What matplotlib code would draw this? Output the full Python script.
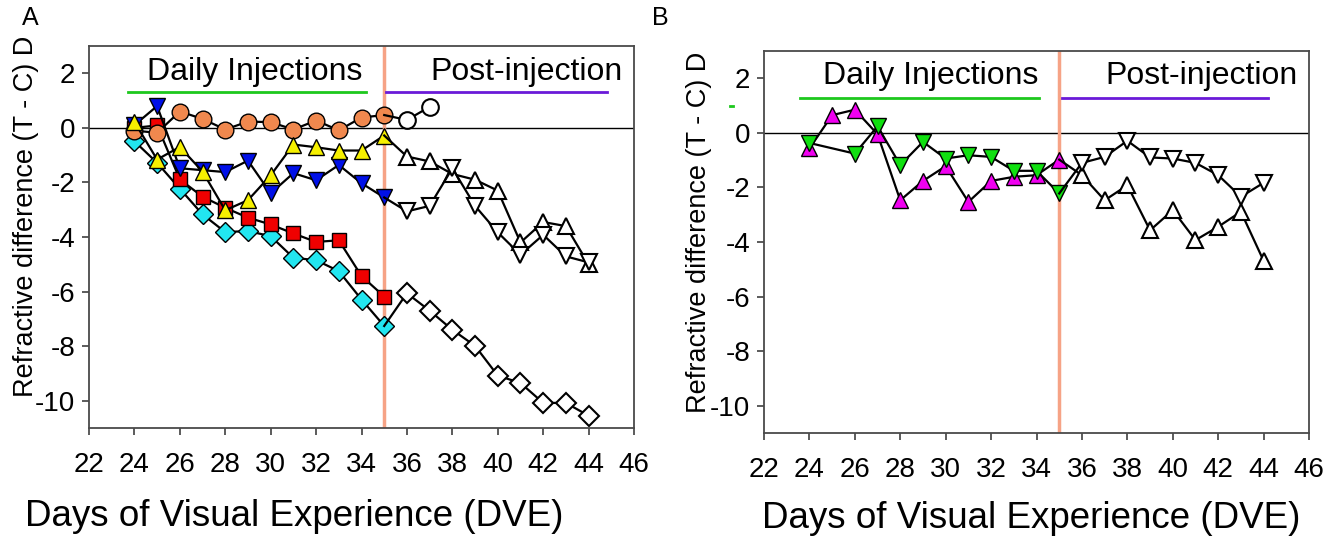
import matplotlib
matplotlib.use("Agg")
import matplotlib.pyplot as plt
import numpy as np

plt.rcParams['font.family'] = ['Liberation Sans', 'DejaVu Sans']
plt.rcParams['axes.unicode_minus'] = False

##### Data #####
inj_days = [24, 25, 26, 27, 28, 29, 30, 31, 32, 33, 34, 35]
post_days = [36, 37, 38, 39, 40, 41, 42, 43, 44]

# Panel A, injection period
a_orange = [-0.1, -0.18, 0.6, 0.33, -0.06, 0.23, 0.21, -0.06, 0.27, -0.09, 0.38, 0.47]
a_yellow = [0.22, -1.16, -0.7, -1.6, -3.02, -2.65, -1.74, -0.61, -0.71, -0.83, -0.83, -0.28]
a_blue = [0.1, 0.8, -1.48, -1.55, -1.62, -1.2, -2.4, -1.66, -1.92, -1.36, -2.03, -2.55]
a_red = [0.0, 0.09, -1.89, -2.52, -2.93, -3.29, -3.54, -3.87, -4.18, -4.12, -5.43, -6.18]
a_cyan = [-0.49, -1.28, -2.23, -3.17, -3.82, -3.78, -3.97, -4.76, -4.85, -5.25, -6.29, -7.26]

# Panel A, post-injection (open markers)
a_circle_days = [36, 37]
a_circle_post = [0.29, 0.77]
a_up_post = [-1.05, -1.23, -1.69, -1.9, -2.3, -4.2, -3.45, -3.6, -5.0]
a_down_post = [-3.06, -2.86, -1.48, -2.86, -3.83, -4.65, -3.92, -4.71, -4.93]
a_diamond_post = [-6.06, -6.7, -7.4, -7.99, -9.08, -9.35, -10.08, -10.08, -10.55]

# Panel B
b_magenta = [-0.57, 0.65, 0.85, -0.05, -2.47, -1.76, -1.22, -2.53, -1.76, -1.61, -1.55, -0.98]
b_green_days = [24, 26, 27, 28, 29, 30, 31, 32, 33, 34, 35]
b_green = [-0.37, -0.76, 0.24, -1.18, -0.33, -0.94, -0.82, -0.88, -1.39, -1.39, -2.22]
b_up_post = [-1.55, -2.47, -1.92, -3.57, -2.83, -3.93, -3.44, -2.89, -4.69]
b_down_post = [-1.1, -0.88, -0.29, -0.9, -0.94, -1.1, -1.55, -2.34, -1.83]

xticks = list(range(22, 47, 2))
yticks = list(range(-10, 3, 2))

##### Figure #####
fig = plt.figure(figsize=(13.34, 5.44), dpi=100)
axA = fig.add_axes([0.0667, 0.2132, 0.4086, 0.7022])
axB = fig.add_axes([0.5727, 0.204, 0.4086, 0.7022])

LINE = dict(color='k', lw=1.6)


def filled(ax, days, vals, marker, color, ms):
    ax.plot(days, vals, marker=marker, ms=ms, mfc=color, mec='k', mew=1.0, **LINE)


def open_post(ax, last_day, last_val, days, vals, marker, ms):
    # connector from last injection point, then open markers
    ax.plot([last_day] + days, [last_val] + vals, **LINE)
    ax.plot(days, vals, ls='none', marker=marker, ms=ms, mfc='white', mec='k', mew=1.5)


def style(ax):
    ax.set_xlim(22, 46)
    ax.set_ylim(-11, 3)
    ax.set_xticks(xticks)
    ax.set_yticks(yticks)
    ax.tick_params(direction='out', length=5, width=1.2, labelsize=20, colors='#404040',
                   labelcolor='k', pad=5)
    ax.tick_params(axis='x', pad=12)
    for s in ax.spines.values():
        s.set_color('#4a4a4a')
        s.set_linewidth(1.3)
    ax.axhline(0, color='k', lw=1.0, zorder=1)
    ax.axvline(35, color='#F6A386', lw=2.5, zorder=1)
    ax.set_xlabel('Days of Visual Experience (DVE)', fontsize=26.5)
    ax.set_ylabel('Refractive difference (T - C) D', fontsize=19.5)


# ---- Panel A ----
style(axA)
axA.xaxis.set_label_coords(0.376, -0.185)
axA.yaxis.set_label_coords(-0.092, 0.555)
filled(axA, inj_days, a_cyan, 'D', '#22E6F0', 10)
filled(axA, inj_days, a_red, 's', '#F00000', 10)
filled(axA, inj_days, a_blue, 'v', '#0010E8', 11)
filled(axA, inj_days, a_orange, 'o', '#F0884E', 12)
filled(axA, inj_days, a_yellow, '^', '#F6F000', 11)
open_post(axA, 35, a_orange[-1], a_circle_days, a_circle_post, 'o', 12)
open_post(axA, 35, a_yellow[-1], post_days, a_up_post, '^', 12)
open_post(axA, 35, a_blue[-1], post_days, a_down_post, 'v', 12)
open_post(axA, 35, a_cyan[-1], post_days, a_diamond_post, 'D', 10)

axA.text(29.3, 2.05, 'Daily Injections', fontsize=23, ha='center', va='center')
axA.plot([23.7, 34.2], [1.32, 1.32], color='#1DC81D', lw=2)
axA.text(41.25, 2.05, 'Post-injection', fontsize=23, ha='center', va='center')
axA.plot([35.1, 44.8], [1.32, 1.32], color='#6A1AD8', lw=2)

# ---- Panel B ----
style(axB)
axB.xaxis.set_label_coords(0.49, -0.178)
axB.yaxis.set_label_coords(-0.095, 0.525)
filled(axB, inj_days, b_magenta, '^', '#F000F0', 11)
filled(axB, b_green_days, b_green, 'v', '#10E010', 11)
open_post(axB, 35, b_magenta[-1], post_days, b_up_post, '^', 12)
open_post(axB, 35, b_green[-1], post_days, b_down_post, 'v', 12)

axB.text(29.36, 2.1, 'Daily Injections', fontsize=23, ha='center', va='center')
axB.plot([23.6, 34.1], [1.27, 1.27], color='#1DC81D', lw=2)
axB.plot([20.5, 20.65], [0.98, 0.98], color='#1DC81D', lw=2, clip_on=False)
axB.text(41.25, 2.1, 'Post-injection', fontsize=23, ha='center', va='center')
axB.plot([35.1, 44.2], [1.27, 1.27], color='#6A1AD8', lw=2)

fig.text(0.0225, 0.967, 'A', fontsize=18, ha='center', va='center')
fig.text(0.495, 0.967, 'B', fontsize=18, ha='center', va='center')

fig.savefig('out.png', dpi=100)
